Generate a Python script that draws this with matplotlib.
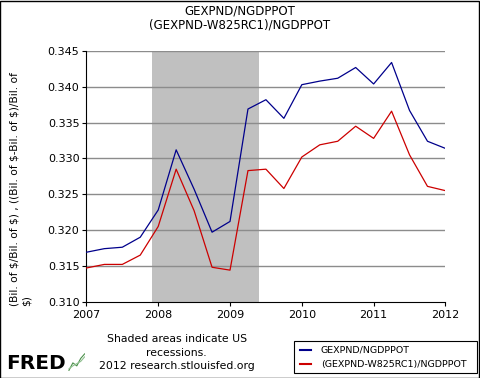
import matplotlib
matplotlib.use("Agg")
import matplotlib.pyplot as plt
from matplotlib.patches import Rectangle

# quarterly observations, 2007Q1 .. 2012Q1
quarters = [2007 + 0.25 * i for i in range(21)]
gexpnd_ratio = [0.3169, 0.3174, 0.3176, 0.3190, 0.3228, 0.3312, 0.3257, 0.3197,
                0.3212, 0.3369, 0.3382, 0.3356, 0.3403, 0.3408, 0.3412, 0.3427,
                0.3404, 0.3434, 0.3367, 0.3324, 0.3314]
net_ratio = [0.3147, 0.3152, 0.3152, 0.3165, 0.3205, 0.3285, 0.3227, 0.3148,
             0.3144, 0.3283, 0.3285, 0.3258, 0.3302, 0.3319, 0.3324, 0.3345,
             0.3328, 0.3366, 0.3305, 0.3261, 0.3255]
recession = (2007.91, 2009.41)
year_ticks = [2007, 2008, 2009, 2010, 2011, 2012]
y_ticks = [0.310, 0.315, 0.320, 0.325, 0.330, 0.335, 0.340, 0.345]

plt.rcParams["text.parse_math"] = False

fig = plt.figure(figsize=(4.8, 3.78), dpi=100)
ax = fig.add_axes([0.180, 0.202, 0.748, 0.663])

ax.axvspan(recession[0], recession[1], color="#c0c0c0", lw=0, zorder=0)
for v in y_ticks[1:]:
    ax.axhline(v, color="#8c8c8c", lw=1, zorder=1)
ax.plot(quarters, gexpnd_ratio, color="#00008b", lw=0.9, zorder=3)
ax.plot(quarters, net_ratio, color="#cc0000", lw=0.9, zorder=3)

ax.set_xlim(2007, 2012)
ax.set_ylim(0.310, 0.345)
ax.set_xticks(year_ticks)
ax.set_xticklabels([str(y) for y in year_ticks], fontsize=8)
ax.set_yticks(y_ticks)
ax.set_yticklabels(["%.3f" % v for v in y_ticks], fontsize=8)
ax.tick_params(axis="both", direction="out", length=3, width=0.8, pad=2)
ax.tick_params(axis="x", pad=3)
for s in ["top", "right"]:
    ax.spines[s].set_visible(False)
for s in ["left", "bottom"]:
    ax.spines[s].set_linewidth(0.8)

fig.text(0.5, 0.971, "GEXPND/NGDPPOT", ha="center", va="center", fontsize=8.5)
fig.text(0.5, 0.934, "(GEXPND-W825RC1)/NGDPPOT", ha="center", va="center", fontsize=8.5)
fig.text(0.043, 0.499, "(Bil. of $/Bil. of $) , ((Bil. of $-Bil. of $)/Bil. of\n$)",
         rotation=90, ha="center", va="center", multialignment="left",
         fontsize=7.7, linespacing=1.3)

fig.text(0.368, 0.018, "Shaded areas indicate US\nrecessions.\n2012 research.stlouisfed.org",
         ha="center", va="bottom", fontsize=7.8, linespacing=1.45)
fig.text(0.013, 0.014, "FRED", ha="left", va="bottom", fontsize=14.5, fontweight="heavy")
spark_ax = fig.add_axes([0.142, 0.018, 0.036, 0.048])
spark_ax.plot([0, 1, 2, 3, 4], [0, 1, 0.6, 1.6, 2.2], color="#4a8f4a", lw=0.8)
spark_ax.plot([0, 1, 2, 3, 4], [0.2, 0.6, 0.9, 1.2, 1.8], color="#8fbf8f", lw=0.8)
spark_ax.axis("off")

fig.add_artist(Rectangle((0.612, 0.012), 0.382, 0.085, transform=fig.transFigure,
                         fill=False, edgecolor="black", lw=0.8))
fig.add_artist(plt.Line2D([0.625, 0.648], [0.073, 0.073], transform=fig.transFigure,
                          color="#00008b", lw=1.5))
fig.add_artist(plt.Line2D([0.625, 0.648], [0.037, 0.037], transform=fig.transFigure,
                          color="#cc0000", lw=1.5))
fig.text(0.668, 0.073, "GEXPND/NGDPPOT", ha="left", va="center", fontsize=6.8)
fig.text(0.668, 0.037, "(GEXPND-W825RC1)/NGDPPOT", ha="left", va="center", fontsize=6.8)

fig.add_artist(Rectangle((0.001, 0.001), 0.997, 0.997, transform=fig.transFigure,
                         fill=False, edgecolor="black", lw=1))

fig.savefig("out.png", dpi=100)
